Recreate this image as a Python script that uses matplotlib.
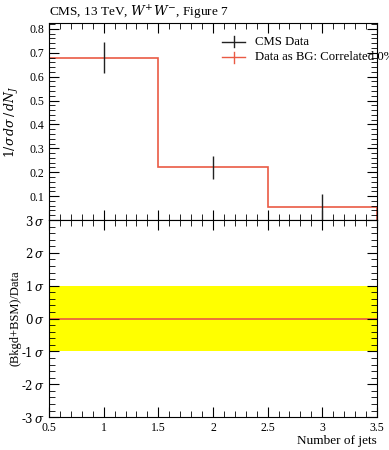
import matplotlib
matplotlib.use('Agg')
import matplotlib.pyplot as plt
from matplotlib.ticker import MultipleLocator

# data
bin_edges = [0.5, 1.5, 2.5, 3.5]
bin_centres = [1.0, 2.0, 3.0]
data_values = [0.68, 0.22, 0.055]
data_errors = [0.065, 0.05, 0.053]
bg_values = [0.68, 0.22, 0.055]
pull_values = [0.0, 0.0, 0.0]
sigma_ticks = [-3, -2, -1, 0, 1, 2, 3]

RED = '#ea5a44'
plt.rcParams['font.family'] = ['Liberation Serif', 'DejaVu Serif']
plt.rcParams['mathtext.fontset'] = 'dejavuserif'

fig = plt.figure(figsize=(3.89, 4.5), dpi=100)
ax = fig.add_axes([0.126, 0.511, 0.843, 0.438])
rx = fig.add_axes([0.126, 0.073, 0.843, 0.438])

# top panel: histogram step + data
ax.stairs(bg_values, bin_edges, color=RED, linewidth=1.2)
ax.errorbar(bin_centres, data_values, yerr=data_errors, fmt='none',
            ecolor='#222222', elinewidth=1.0, capsize=0)
ax.set_xlim(0.5, 3.5)
ax.set_ylim(0.0, 0.825)
ax.yaxis.set_minor_locator(MultipleLocator(0.02))
ax.xaxis.set_major_locator(MultipleLocator(0.5))
ax.xaxis.set_minor_locator(MultipleLocator(0.1))
ax.set_yticks([0.1, 0.2, 0.3, 0.4, 0.5, 0.6, 0.7, 0.8])
ax.tick_params(labelbottom=False)
ax.set_ylabel(r'$1/\sigma\, d\sigma\, /\, dN_J$', fontsize=9)

# legend drawn by hand so it can run past the axes edge
lx0, lx1, ly = 0.571, 0.630, 0.907
for i, (h_col, label) in enumerate([('#222222', 'CMS Data'),
                                    (RED, 'Data as BG: Correlated 0%')]):
    y = ly - i * 0.034
    fig.add_artist(plt.Line2D([lx0, lx1], [y, y], color=h_col, lw=1.0,
                              transform=fig.transFigure))
    fig.add_artist(plt.Line2D([(lx0 + lx1) / 2] * 2, [y - 0.012, y + 0.012],
                              color=h_col, lw=1.0, transform=fig.transFigure))
    fig.text(0.656, y, label, fontsize=9.2, va='center', ha='left')

# bottom panel: significance
rx.axhspan(-1, 1, color='#ffff00', lw=0)
rx.stairs(pull_values, bin_edges, color=RED, linewidth=1.2, baseline=None)
rx.set_xlim(0.5, 3.5)
rx.set_ylim(-3, 3)
rx.set_yticks(sigma_ticks)
rx.set_yticklabels([r'$%d\,\sigma$' % s if s >= 0 else r'-$%d\,\sigma$' % -s
                    for s in sigma_ticks])
rx.yaxis.set_minor_locator(MultipleLocator(0.2))
rx.xaxis.set_minor_locator(MultipleLocator(0.1))
rx.set_xticks([0.5, 1, 1.5, 2, 2.5, 3, 3.5])
rx.set_xticklabels(['0.5', '1', '1.5', '2', '2.5', '3', '3.5'])
rx.set_ylabel('(Bkgd+BSM)/Data', fontsize=9)
rx.set_xlabel('Number of jets', fontsize=9.5, loc='right', labelpad=1)

for a in (ax, rx):
    a.tick_params(which='both', direction='in', top=True, right=True, labelsize=8.5)
    a.tick_params(which='major', length=7)
    a.tick_params(which='minor', length=4)
    a.yaxis.set_label_coords(-0.085, 0.5)

fig.text(0.126, 0.964, r'CMS, 13 TeV, $W^{+}W^{-}$, Figure 7', fontsize=9.5,
         ha='left', va='baseline')

fig.savefig('out.png', dpi=100)
